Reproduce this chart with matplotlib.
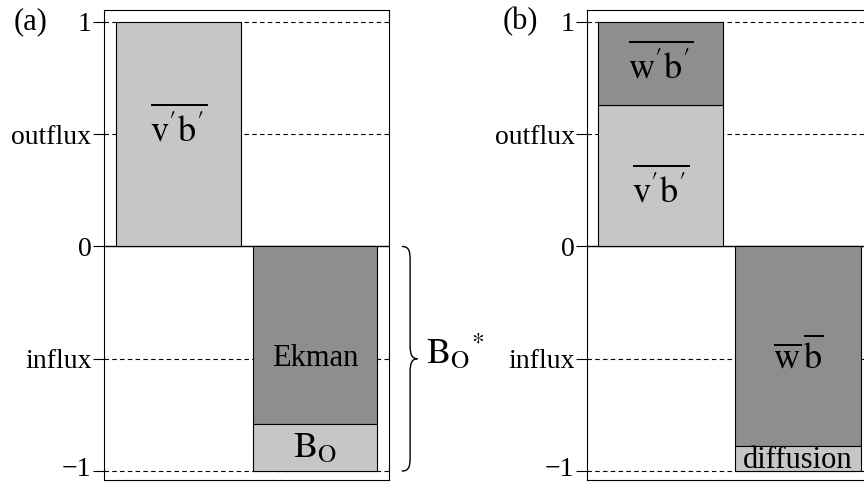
import numpy as np
import matplotlib.pyplot as plt
from matplotlib.path import Path
from matplotlib.patches import PathPatch
import matplotlib.transforms as mtransforms

plt.rcParams["font.family"] = ["Liberation Serif", "DejaVu Serif"]
plt.rcParams["mathtext.fontset"] = "stix"

LIGHT = "#c6c6c6"
DARK = "#8e8e8e"

# y ticks shared by both panels
tick_vals = [1, 0.5, 0, -0.5, -1]
tick_labels = ["1", "outflux", "0", "influx", "\u22121"]

# panel (a): budget terms (bar index, value)
a_names = [r"$\overline{\mathrm{v}^{\prime}\mathrm{b}^{\prime}}$", "Ekman", r"$\mathrm{B_O}$"]
a_bar = [0, 1, 1]
a_bottom = [0.0, 0.0, -0.79]
a_value = [1.0, -0.79, -0.21]
a_color = [LIGHT, DARK, LIGHT]
a_text_y = [0.53, -0.5, -0.9]

# panel (b)
b_names = [r"$\overline{\mathrm{v}^{\prime}\mathrm{b}^{\prime}}$",
           r"$\overline{\mathrm{w}^{\prime}\mathrm{b}^{\prime}}$",
           r"$\overline{\mathrm{w}}\,\overline{\mathrm{b}}$", "diffusion"]
b_bar = [0, 0, 1, 1]
b_bottom = [0.0, 0.63, 0.0, -0.89]
b_value = [0.63, 0.37, -0.89, -0.11]
b_color = [LIGHT, DARK, DARK, LIGHT]
b_text_y = [0.26, 0.81, -0.49, -0.955]

fig = plt.figure(figsize=(8.64, 4.83), dpi=100)
ax_a = fig.add_axes([104 / 864, 3 / 483, 285 / 864, 470 / 483])
ax_b = fig.add_axes([587 / 864, 3 / 483, 279 / 864, 470 / 483])


def draw_panel(ax, names, bars, bottoms, values, colors, text_y, xlim, tag, tag_x):
    for yv in [1, 0.5, -0.5, -1]:
        ax.axhline(yv, color="black", lw=0.8, ls=(0, (4, 3)), zorder=1)
    ax.axhline(0, color="black", lw=1.0, zorder=1)
    ax.bar(bars, values, bottom=bottoms, width=0.915, color=colors,
           edgecolor="black", linewidth=0.8, zorder=2)
    for name, b, ty in zip(names, bars, text_y):
        size = 26 if name.startswith("$") else 22
        ax.text(b, ty, name, ha="center", va="center", fontsize=size, zorder=3)
    ax.set_xlim(*xlim)
    ax.set_ylim(-1.04, 1.053)
    ax.set_xticks([])
    ax.set_yticks(tick_vals)
    ax.set_yticklabels(tick_labels, fontsize=20)
    ax.tick_params(axis="y", direction="out", length=8, width=0.8, pad=1)
    low = ax.get_yticklabels()[-1]
    low.set_transform(low.get_transform()
                      + mtransforms.ScaledTranslation(0, 3 / 72, fig.dpi_scale_trans))
    for s in ax.spines.values():
        s.set_linewidth(0.8)
    fig.text(tag_x, 1 - 22 / 483, tag, fontsize=22, va="center", ha="left")


draw_panel(ax_a, a_names, a_bar, a_bottom, a_value, a_color, a_text_y,
           (-0.546, 1.542), "(a)", 14 / 864)
draw_panel(ax_b, b_names, b_bar, b_bottom, b_value, b_color, b_text_y,
           (-0.535, 1.495), "(b)", 503 / 864)

# curly brace next to panel (a) spanning 0 .. -1
trans = mtransforms.blended_transform_factory(ax_a.transAxes, ax_a.transData)
verts = [(1.045, 0.0), (1.07, 0.0), (1.074, -0.02), (1.074, -0.06),
         (1.074, -0.44),
         (1.074, -0.48), (1.08, -0.5), (1.10, -0.5),
         (1.08, -0.5), (1.074, -0.52), (1.074, -0.56),
         (1.074, -0.94),
         (1.074, -0.98), (1.07, -1.0), (1.045, -1.0)]
codes = [Path.MOVETO, Path.CURVE4, Path.CURVE4, Path.CURVE4,
         Path.LINETO,
         Path.CURVE4, Path.CURVE4, Path.CURVE4,
         Path.CURVE4, Path.CURVE4, Path.CURVE4,
         Path.LINETO,
         Path.CURVE4, Path.CURVE4, Path.CURVE4]
ax_a.add_patch(PathPatch(Path(verts, codes), transform=trans, fill=False,
                         lw=1.0, color="black", clip_on=False))
ax_a.text(1.13, -0.47, r"$\mathrm{B_O}^{*}$", transform=trans, fontsize=26,
          ha="left", va="center")

fig.savefig("out.png", dpi=100)
plt.close(fig)
